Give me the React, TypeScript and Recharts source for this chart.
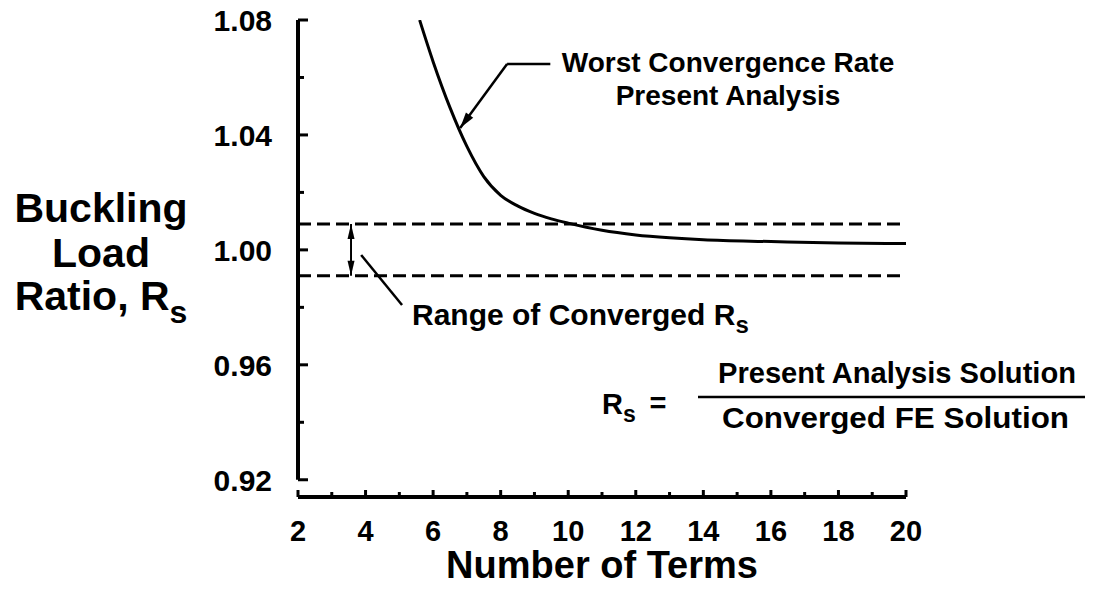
import React from 'react';
import { LineChart, Line, XAxis, YAxis, ReferenceLine } from 'recharts';

// Worst convergence curve
const termCounts = [5.6, 6, 6.5, 7, 7.5, 8, 8.5, 9, 9.5, 10, 11, 12, 13, 14, 16, 18, 20];
const worstRatio = [1.08, 1.0655, 1.0495, 1.036, 1.0255, 1.019, 1.0153, 1.0127, 1.0108, 1.0093, 1.0068, 1.0052, 1.0042, 1.0035, 1.0029, 1.0024, 1.0022];

const xTicks = [2, 3, 4, 5, 6, 7, 8, 9, 10, 11, 12, 13, 14, 15, 16, 17, 18, 19, 20];
const yTicks = [0.92, 0.94, 0.96, 0.98, 1.0, 1.02, 1.04, 1.06, 1.08];

// converged band and annotation anchors (data coords)
const bandUpper = 1.009;
const bandLower = 0.991;
const bandArrowX = 3.57;
const worstLeader = [
  { x: 9.47, y: 1.0647 },
  { x: 8.19, y: 1.0647 },
  { x: 6.8, y: 1.0424 },
];
const rangeLeader = [
  { x: 3.87, y: 0.9982 },
  { x: 5.08, y: 0.9808 },
];

const data = termCounts.map((t, i) => ({ terms: t, ratio: worstRatio[i] }));

const FONT = '"Liberation Sans", Arial, Helvetica, sans-serif';

const arrowHead = (tx: number, ty: number, fx: number, fy: number, len = 15, half = 4) => {
  const dx = tx - fx;
  const dy = ty - fy;
  const d = Math.sqrt(dx * dx + dy * dy) || 1;
  const ux = dx / d;
  const uy = dy / d;
  const bx = tx - ux * len;
  const by = ty - uy * len;
  return `${tx},${ty} ${bx - uy * half},${by + ux * half} ${bx + uy * half},${by - ux * half}`;
};

const PlainSegment = (props: any) => (
  <line x1={props.x1} y1={props.y1} x2={props.x2} y2={props.y2} stroke="#000" strokeWidth={2.5} />
);

const ArrowSegment = (props: any) => {
  const { x1, y1, x2, y2 } = props;
  return (
    <g>
      <line x1={x1} y1={y1} x2={x2} y2={y2} stroke="#000" strokeWidth={2.5} />
      <polygon points={arrowHead(x2, y2, x1, y1, 16, 4.5)} fill="#000" />
    </g>
  );
};

const DoubleArrow = (props: any) => {
  const { x1, y1, x2, y2 } = props;
  return (
    <g>
      <line x1={x1} y1={y1} x2={x2} y2={y2} stroke="#000" strokeWidth={2} />
      <polygon points={arrowHead(x1, y1, x2, y2, 15, 3.5)} fill="#000" />
      <polygon points={arrowHead(x2, y2, x1, y1, 15, 3.5)} fill="#000" />
    </g>
  );
};

const XTick = ({ x, y, payload }: any) => {
  const v = payload.value;
  const labeled = v % 2 === 0;
  return (
    <g>
      <line x1={x} y1={y} x2={x} y2={y - (labeled ? 7 : 5)} stroke="#000" strokeWidth={3} />
      {labeled && (
        <text x={x} y={y + 44} textAnchor="middle" fontFamily={FONT} fontWeight="bold" fontSize={29} fill="#000">
          {v}
        </text>
      )}
    </g>
  );
};

const YTick = ({ x, y, payload }: any) => {
  const v = payload.value;
  const labeled = Math.round(v * 100) % 4 === 0;
  return (
    <g>
      <line x1={x} y1={y} x2={x + (labeled ? 10 : 6)} y2={y} stroke="#000" strokeWidth={3} />
      {labeled && (
        <text x={x - 26} y={y} dy="0.36em" textAnchor="end" fontFamily={FONT} fontWeight="bold" fontSize={30} fill="#000">
          {v.toFixed(2)}
        </text>
      )}
    </g>
  );
};

const textStyle = { fontFamily: FONT, fontWeight: 'bold' as const, fill: '#000' };

export default function App() {
  return (
    <div style={{ position: 'absolute', left: 0, top: 0, width: 1100, height: 603, background: '#fff' }}>
      <LineChart width={1100} height={603} data={data} margin={{ top: 20, right: 194, bottom: 66, left: 218 }}>
        <XAxis
          dataKey="terms"
          type="number"
          domain={[2, 20]}
          ticks={xTicks}
          interval={0}
          height={40}
          tickSize={0}
          tickMargin={0}
          axisLine={{ stroke: '#000', strokeWidth: 4 }}
          tickLine={false}
          tick={<XTick />}
          allowDataOverflow
        />
        <YAxis
          type="number"
          domain={[0.914, 1.08]}
          ticks={yTicks}
          interval={0}
          width={80}
          tickSize={0}
          tickMargin={0}
          axisLine={false}
          tickLine={false}
          tick={<YTick />}
          allowDataOverflow
        />
        <ReferenceLine segment={[{ x: 2, y: 0.92 }, { x: 2, y: 1.08 }]} stroke="#000" strokeWidth={4} />
        <ReferenceLine y={bandUpper} stroke="#000" strokeWidth={3} strokeDasharray="13 6" />
        <ReferenceLine y={bandLower} stroke="#000" strokeWidth={3} strokeDasharray="13 6" />
        <ReferenceLine
          segment={[{ x: bandArrowX, y: bandLower }, { x: bandArrowX, y: bandUpper }]}
          shape={DoubleArrow}
        />
        <ReferenceLine segment={[worstLeader[0], worstLeader[1]]} shape={PlainSegment} />
        <ReferenceLine segment={[worstLeader[1], worstLeader[2]]} shape={ArrowSegment} />
        <ReferenceLine segment={[rangeLeader[0], rangeLeader[1]]} shape={PlainSegment} />
        <Line
          type="monotone"
          dataKey="ratio"
          stroke="#000"
          strokeWidth={3}
          dot={false}
          activeDot={false}
          isAnimationActive={false}
        />
      </LineChart>
      <svg width={1100} height={603} style={{ position: 'absolute', left: 0, top: 0, pointerEvents: 'none' }}>
        {/* y axis title */}
        <text x={101} y={222} textAnchor="middle" fontSize={41} {...textStyle}>Buckling</text>
        <text x={101} y={267} textAnchor="middle" fontSize={41} {...textStyle}>Load</text>
        <text x={101} y={310} textAnchor="middle" fontSize={41} {...textStyle}>
          Ratio, R<tspan fontSize={32} dy={13}>s</tspan>
        </text>
        {/* x axis title */}
        <text x={602} y={578} textAnchor="middle" fontSize={38} {...textStyle}>Number of Terms</text>
        {/* annotations */}
        <text x={728} y={72} textAnchor="middle" fontSize={28} {...textStyle}>Worst Convergence Rate</text>
        <text x={728} y={105} textAnchor="middle" fontSize={28} {...textStyle}>Present Analysis</text>
        <text x={412} y={325} textAnchor="start" fontSize={30} {...textStyle}>
          Range of Converged R<tspan fontSize={24} dy={8}>s</tspan>
        </text>
        <text x={602} y={414} textAnchor="start" fontSize={29} {...textStyle}>
          R<tspan fontSize={23} dy={8}>s</tspan>
        </text>
        <text x={658} y={413} textAnchor="middle" fontSize={29} {...textStyle}>=</text>
        <text x={718} y={383} textLength={358} lengthAdjust="spacingAndGlyphs" fontSize={29} {...textStyle}>
          Present Analysis Solution
        </text>
        <line x1={698} y1={397} x2={1085} y2={397} stroke="#000" strokeWidth={2.5} />
        <text x={722} y={428} textLength={347} lengthAdjust="spacingAndGlyphs" fontSize={29} {...textStyle}>
          Converged FE Solution
        </text>
      </svg>
    </div>
  );
}
